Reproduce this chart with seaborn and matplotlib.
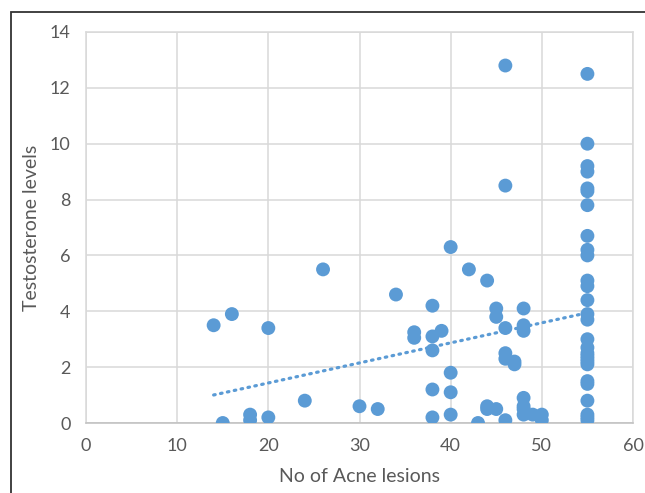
import matplotlib
matplotlib.use("Agg")
import matplotlib.pyplot as plt
from matplotlib.patches import Rectangle
import pandas as pd
import numpy as np
import seaborn as sns

# values
lesions = [14, 16, 20, 15, 18, 18, 20, 24, 26, 30, 32, 34, 36, 36,
           38, 38, 38, 38, 38, 39, 40, 40, 40, 40, 42, 43, 44, 44, 44,
           45, 45, 45, 46, 46, 46, 46, 46, 46, 47, 47,
           48, 48, 48, 48, 48, 48, 48, 49, 50, 50,
           55, 55, 55, 55, 55, 55, 55, 55, 55, 55, 55, 55, 55, 55,
           55, 55, 55, 55, 55, 55, 55, 55, 55, 55, 55, 55, 55, 55]
testosterone = [3.5, 3.9, 3.4, 0.0, 0.3, 0.1, 0.2, 0.8, 5.5, 0.6, 0.5, 4.6, 3.25, 3.05,
                4.2, 3.1, 2.6, 1.2, 0.2, 3.3, 6.3, 1.8, 1.1, 0.3, 5.5, 0.0, 5.1, 0.6, 0.5,
                4.1, 3.8, 0.5, 12.8, 8.5, 3.4, 2.5, 2.3, 0.1, 2.2, 2.1,
                4.1, 3.5, 3.3, 0.9, 0.6, 0.5, 0.3, 0.3, 0.3, 0.1,
                12.5, 10.0, 9.2, 9.0, 8.4, 8.3, 7.8, 6.7, 6.2, 6.0, 5.1, 4.9, 4.4, 3.9,
                3.7, 3.0, 2.7, 2.5, 2.4, 2.3, 2.2, 2.1, 1.5, 1.4, 0.8, 0.3, 0.2, 0.1]
x_ticks = [0, 10, 20, 30, 40, 50, 60]
y_ticks = [0, 2, 4, 6, 8, 10, 12, 14]

df = pd.DataFrame({"lesions": lesions, "testosterone": testosterone})

sns.set_style("white")
plt.rcParams["font.family"] = ["Lato", "DejaVu Sans"]

blue = "#5B9BD5"
grid_c = "#D9D9D9"
text_c = "#595959"

fig = plt.figure(figsize=(6.45, 4.93), dpi=100)
ax = fig.add_axes([86 / 645, 70 / 493, 547 / 645, 391 / 493])

sns.regplot(data=df, x="lesions", y="testosterone", ax=ax, scatter=False, ci=None,
            line_kws={"color": blue, "lw": 2.3, "ls": (0, (0.5, 1.7)),
                      "dash_capstyle": "round", "zorder": 2})
sns.scatterplot(data=df, x="lesions", y="testosterone", ax=ax, color=blue,
                s=100, edgecolor="none", linewidth=0, zorder=3)

ax.set_xlim(0, 60)
ax.set_ylim(0, 14)
ax.set_xticks(x_ticks)
ax.set_yticks(y_ticks)
ax.grid(True, color=grid_c, lw=1.1)
ax.set_axisbelow(True)
for side, sp in ax.spines.items():
    sp.set_visible(True)
    sp.set_color(grid_c)
    sp.set_linewidth(1.1)
ax.spines["bottom"].set_color("#BFBFBF")
ax.tick_params(length=0, labelsize=13, labelcolor=text_c, pad=11)

ax.set_xlabel("No of Acne lesions", fontsize=14, color=text_c, labelpad=10)
ax.set_ylabel("Testosterone levels", fontsize=14, color=text_c, labelpad=7)

# dark frame of the cropped screenshot (left and top edges)
fig.add_artist(Rectangle((10.5 / 645, -0.1), 1.2, 1.1 - 12.5 / 493,
                         transform=fig.transFigure, fill=False,
                         edgecolor="#333333", lw=1.3))

fig.savefig("out.png", dpi=100)
